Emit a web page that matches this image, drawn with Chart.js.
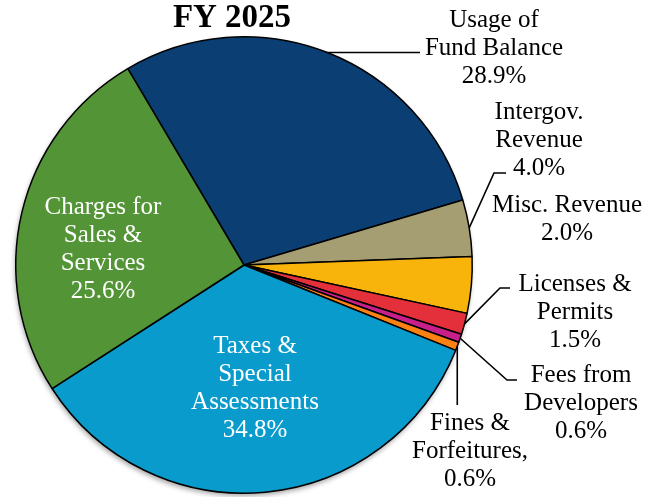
<!DOCTYPE html>
<html>
<head>
<meta charset="utf-8">
<script src="https://cdn.jsdelivr.net/npm/chart.js@4/dist/chart.umd.min.js"></script>
<style>
  body { margin: 0; background: #fff; }
  canvas { display: block; }
</style>
</head>
<body>
<canvas id="graph_fy2025" width="646" height="497"></canvas>
<script>
var title = "FY 2025";

var categories = [
    "Usage of Fund Balance",
    "Intergov. Revenue",
    "Misc. Revenue",
    "Licenses & Permits",
    "Fees from Developers",
    "Fines & Forfeitures",
    "Taxes & Special Assessments",
    "Charges for Sales & Services"
];

// slice sizes as drawn in the picture (percent)
var shares = [28.9, 4.0, 4.0, 1.5, 0.6, 0.6, 34.8, 25.6];

// printed labels
var shareText = ["28.9%", "4.0%", "2.0%", "1.5%", "0.6%", "0.6%", "34.8%", "25.6%"];
var labelLines = [
    ["Usage of", "Fund Balance"],
    ["Intergov.", "Revenue"],
    ["Misc. Revenue"],
    ["Licenses &", "Permits"],
    ["Fees from", "Developers"],
    ["Fines &", "Forfeitures,"],
    ["Taxes &", "Special", "Assessments"],
    ["Charges for", "Sales &", "Services"]
];

var colors = ["#0b3f73", "#a59e73", "#f8b40a", "#e3303b", "#c91f8b", "#fb8113", "#0a9bcd", "#529436"];

// label layout: x centre, first baseline, text colour, leader path after the arc point
var labelPlaces = [
    { x: 494, y: 27, color: "#000", leader: [[420, null]] },
    { x: 539, y: 119, color: "#000", leader: [[494, 173], [506, 173]] },
    { x: 567, y: 212, color: "#000", leader: null },
    { x: 575, y: 291, color: "#000", leader: [[500, 288], [510, 288]] },
    { x: 581, y: 382, color: "#000", leader: [[507, 380], [517, 380]] },
    { x: 470, y: 430, color: "#000", leader: [[null, 405]] },
    { x: 255, y: 353, color: "#fff", leader: null },
    { x: 103, y: 214, color: "#fff", leader: null }
];

var lineHeight = 28;
var labelFont = "25px 'Liberation Serif', 'Times New Roman', serif";

var pieShadow = {
    id: "pieShadow",
    beforeDatasetsDraw: function(chart) {
        var arc = chart.getDatasetMeta(0).data[0];
        var ctx = chart.ctx;
        ctx.save();
        ctx.shadowColor = "rgba(0,0,0,0.35)";
        ctx.shadowBlur = 5;
        ctx.shadowOffsetX = -1;
        ctx.shadowOffsetY = 3;
        ctx.fillStyle = "#fff";
        ctx.beginPath();
        ctx.arc(arc.x, arc.y, arc.outerRadius, 0, Math.PI * 2);
        ctx.fill();
        ctx.restore();
    }
};

var pieLabels = {
    id: "pieLabels",
    afterDraw: function(chart) {
        var ctx = chart.ctx;
        var arcs = chart.getDatasetMeta(0).data;
        ctx.save();

        // title
        ctx.fillStyle = "#000";
        ctx.textAlign = "center";
        ctx.textBaseline = "alphabetic";
        ctx.font = "bold 33px 'Liberation Serif', 'Times New Roman', serif";
        ctx.fillText(title, 232, 27);

        ctx.font = labelFont;
        for (var i = 0; i < arcs.length; i++) {
            var arc = arcs[i];
            var place = labelPlaces[i];

            if (place.leader) {
                var mid = (arc.startAngle + arc.endAngle) / 2;
                var px = arc.x + Math.cos(mid) * arc.outerRadius;
                var py = arc.y + Math.sin(mid) * arc.outerRadius;
                ctx.strokeStyle = "#000";
                ctx.lineWidth = 1.6;
                ctx.beginPath();
                ctx.moveTo(px, py);
                for (var k = 0; k < place.leader.length; k++) {
                    var lx = place.leader[k][0] === null ? px : place.leader[k][0];
                    var ly = place.leader[k][1] === null ? py : place.leader[k][1];
                    ctx.lineTo(lx, ly);
                }
                ctx.stroke();
            }

            var lines = labelLines[i].concat([shareText[i]]);
            ctx.fillStyle = place.color;
            for (var j = 0; j < lines.length; j++) {
                ctx.fillText(lines[j], place.x, place.y + j * lineHeight);
            }
        }
        ctx.restore();
    }
};

var ctx_pie = document.getElementById("graph_fy2025").getContext("2d");

var myPieChart = new Chart(ctx_pie, {
    type: "pie",
    data: {
        labels: categories,
        datasets: [
            {
                data: shares,
                backgroundColor: colors,
                borderColor: "#000",
                borderWidth: 1.5,
                borderAlign: "center"
            }
        ]
    },
    options: {
        responsive: false,
        animation: false,
        rotation: -30.6,
        layout: {
            padding: { left: 15, top: 36, right: 173, bottom: 3 }
        },
        plugins: {
            legend: { display: false },
            tooltip: { enabled: false },
            title: { display: false }
        }
    },
    plugins: [pieShadow, pieLabels]
});
</script>
</body>
</html>
